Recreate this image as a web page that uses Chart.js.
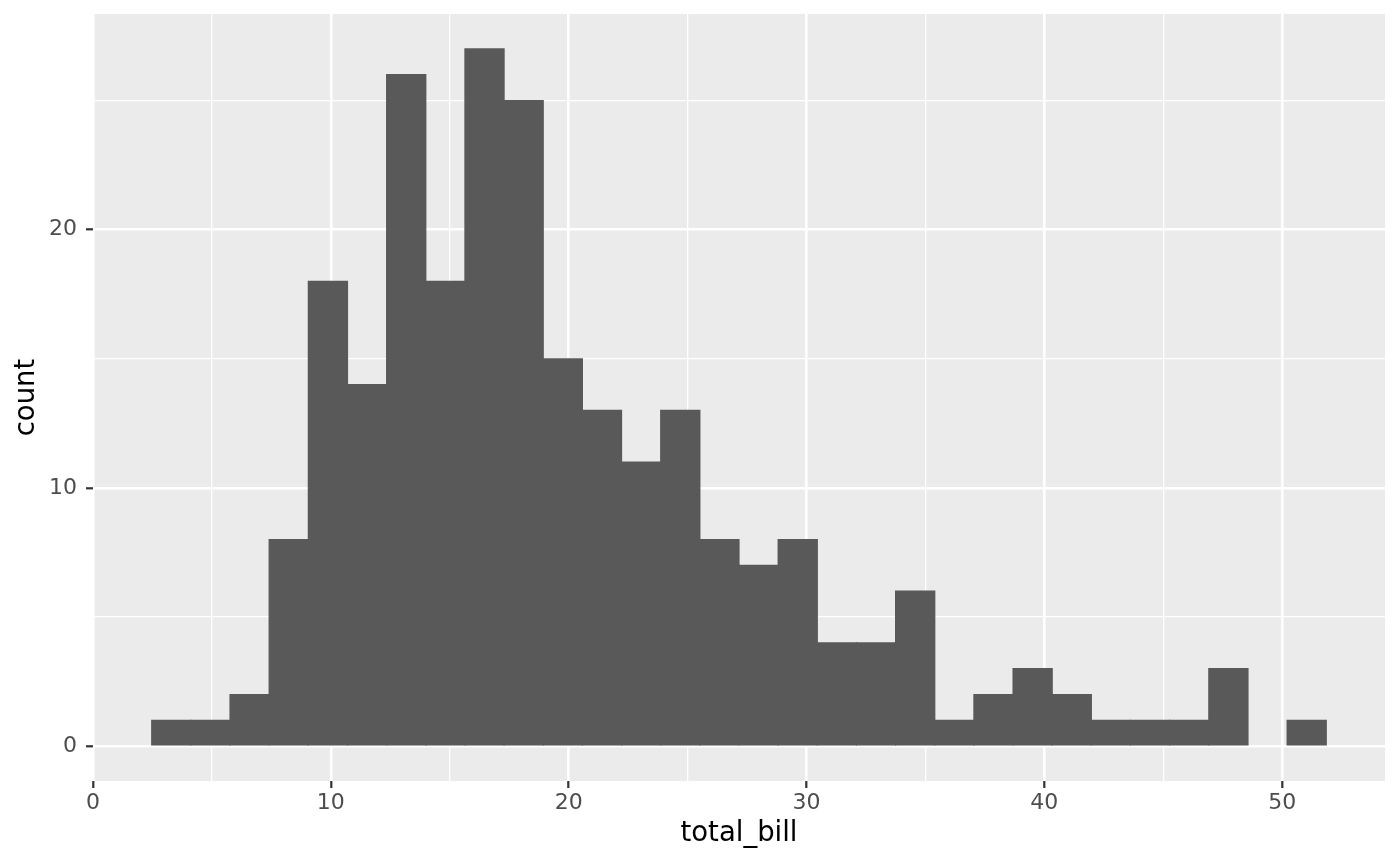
<!DOCTYPE html>
<html>
<head>
<meta charset="utf-8">
<script src="https://cdn.jsdelivr.net/npm/chart.js@4"></script>
<style>
html,body{margin:0;padding:0;background:#fff;}
#wrap{width:1400px;height:865px;}
</style>
</head>
<body>
<div id="wrap"><canvas id="c" width="1400" height="865"></canvas></div>
<script>
// Histogram of total_bill, 30 bins (ggplot2 default)
const binStart = 2.469;
const binWidth = 1.6462;
const counts = [1, 1, 2, 8, 18, 14, 26, 18, 27, 25,
                15, 13, 11, 13, 8, 7, 8, 4, 4, 6,
                1, 2, 3, 2, 1, 1, 1, 3, 0, 1];
const xTicks = [0, 5, 10, 15, 20, 25, 30, 35, 40, 45, 50];
const xLabelTicks = [0, 10, 20, 30, 40, 50];
const yTicks = [0, 5, 10, 15, 20, 25];
const yLabelTicks = [0, 10, 20];
const xLabel = 'total_bill';
const yLabel = 'count';

const binCenters = counts.map((_, i) => binStart + binWidth * (i + 0.5));
const points = counts.map((c, i) => ({ x: binCenters[i], y: c }));

const dataLo = binStart, dataHi = binStart + binWidth * counts.length;
const xPad = 0.05 * (dataHi - dataLo);
const xMin = dataLo - xPad, xMax = dataHi + xPad;
const yMaxData = Math.max(...counts);
const yMin = -0.05 * yMaxData, yMax = yMaxData * 1.05;

const panelBg = {
  id: 'panelBg',
  beforeDraw(chart) {
    const { ctx, chartArea: a } = chart;
    ctx.save();
    ctx.fillStyle = '#EBEBEB';
    ctx.fillRect(a.left, a.top, a.right - a.left, a.bottom - a.top);
    ctx.restore();
  }
};

const isMajor = (list, v) => list.some(t => Math.abs(t - v) < 1e-6);
const tickVal = ctx => (ctx && ctx.tick) ? ctx.tick.value : NaN;

new Chart(document.getElementById('c'), {
  type: 'bar',
  data: {
    datasets: [{
      data: points,
      backgroundColor: ctx => (ctx.raw && ctx.raw.y === 0) ? 'rgba(0,0,0,0)' : '#595959',
      borderWidth: 0,
      inflateAmount: 0.6,
      barPercentage: 1.0,
      categoryPercentage: 1.0
    }]
  },
  options: {
    responsive: false,
    animation: false,
    devicePixelRatio: 1,
    layout: { padding: { left: 0, right: 15, top: 14, bottom: 0 } },
    plugins: { legend: { display: false }, tooltip: { enabled: false } },
    scales: {
      x: {
        type: 'linear',
        min: xMin,
        max: xMax,
        offset: false,
        afterBuildTicks: s => { s.ticks = xTicks.map(v => ({ value: v })); },
        afterFit: s => { s.height = 84; s.paddingLeft = 0; s.paddingRight = 0; },
        border: { display: false },
        grid: {
          offset: false,
          color: '#FFFFFF',
          lineWidth: ctx => isMajor(xLabelTicks, tickVal(ctx)) ? 2.6 : 1.3,
          drawTicks: true,
          tickLength: 7,
          tickWidth: 2.2,
          tickColor: ctx => isMajor(xLabelTicks, tickVal(ctx)) ? '#333333' : 'rgba(0,0,0,0)'
        },
        ticks: {
          autoSkip: false,
          maxRotation: 0,
          padding: 2,
          color: '#4D4D4D',
          font: { family: 'DejaVu Sans', size: 22 },
          callback: v => isMajor(xLabelTicks, v) ? String(v) : ''
        },
        title: {
          display: true,
          text: xLabel,
          color: '#000000',
          font: { family: 'DejaVu Sans', size: 27.5 },
          padding: { top: 0, bottom: 15 }
        }
      },
      y: {
        type: 'linear',
        min: yMin,
        max: yMax,
        afterBuildTicks: s => { s.ticks = yTicks.map(v => ({ value: v })); },
        afterFit: s => { s.width = 93; s.paddingTop = 0; s.paddingBottom = 0; },
        border: { display: false },
        grid: {
          offset: false,
          color: '#FFFFFF',
          lineWidth: ctx => isMajor(yLabelTicks, tickVal(ctx)) ? 2.6 : 1.3,
          drawTicks: true,
          tickLength: 7,
          tickWidth: 2.2,
          tickColor: ctx => isMajor(yLabelTicks, tickVal(ctx)) ? '#333333' : 'rgba(0,0,0,0)'
        },
        ticks: {
          autoSkip: false,
          padding: 9,
          color: '#4D4D4D',
          font: { family: 'DejaVu Sans', size: 22 },
          callback: v => isMajor(yLabelTicks, v) ? String(v) : ''
        },
        title: {
          display: true,
          text: yLabel,
          color: '#000000',
          font: { family: 'DejaVu Sans', size: 27.5 },
          padding: { top: 10, bottom: 0 }
        }
      }
    }
  },
  plugins: [panelBg]
});
</script>
</body>
</html>
